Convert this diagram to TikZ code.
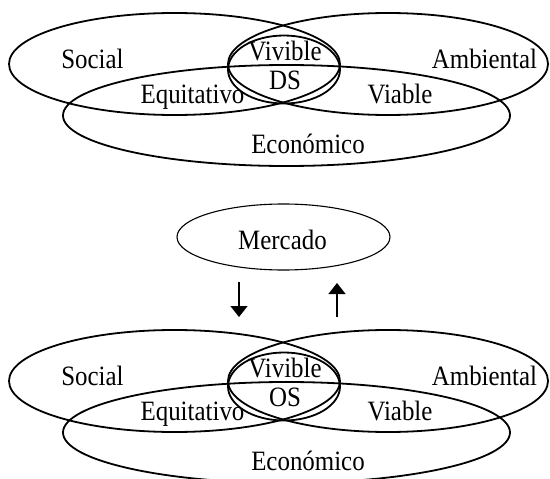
\documentclass[tikz,border=0pt]{standalone}
\usepackage{fontspec}
\setmainfont{Liberation Serif}[FakeStretch=0.89]
\usetikzlibrary{shapes.geometric,arrows.meta}
\begin{document}
\begin{tikzpicture}[x=1pt,y=-1pt,
  venn/.style={draw, ellipse, line width=1.8pt, inner sep=0pt},
  mkt/.style={draw, ellipse, line width=1.1pt, inner sep=0pt},
  lbl/.style={font=\fontsize{28}{28}\selectfont, anchor=base, inner sep=0pt},
  arr/.style={-{Triangle[width=17pt,length=11pt]}, line width=1.3pt}]
\useasboundingbox (0,0) rectangle (550,479);
\clip (0,0) rectangle (550,479);
% top diagram
\node[venn, minimum width=331pt, minimum height=102pt] (socT) at (174.5,64) {};
\node[venn, minimum width=320pt, minimum height=102pt] (ambT) at (388,64) {};
\node[venn, minimum width=447pt, minimum height=101pt] (ecoT) at (286.5,115.5) {};
\node[venn, minimum width=112pt, minimum height=68pt] (dsT) at (284,69.5) {};
\node[lbl] (lsocT) at (92.5,68) {Social};
\node[lbl] (lambT) at (484.5,68) {Ambiental};
\node[lbl] (lvivT) at (285,60) {Vivible};
\node[lbl] (ldsT) at (285,89) {DS};
\node[lbl] (lequT) at (192.5,103) {Equitativo};
\node[lbl] (lviaT) at (400,103) {Viable};
\node[lbl] (lecoT) at (308,153) {Económico};
% market
\node[mkt, minimum width=213pt, minimum height=66pt] (mer) at (283.5,237) {};
\node[lbl] (lmer) at (282.5,249) {Mercado};
\coordinate (d1) at (239,282);
\coordinate (d2) at (239,317);
\coordinate (u1) at (337,317);
\coordinate (u2) at (337,283);
\draw[arr] (d1) -- (d2);
\draw[arr] (u1) -- (u2);
% bottom diagram
\begin{scope}[yshift=-317pt]
\node[venn, minimum width=331pt, minimum height=102pt] (socB) at (174.5,64) {};
\node[venn, minimum width=320pt, minimum height=102pt] (ambB) at (388,64) {};
\node[venn, minimum width=447pt, minimum height=101pt] (ecoB) at (286.5,115.5) {};
\node[venn, minimum width=112pt, minimum height=68pt] (osB) at (284,69.5) {};
\node[lbl] (lsocB) at (92.5,68) {Social};
\node[lbl] (lambB) at (484.5,68) {Ambiental};
\node[lbl] (lvivB) at (285,60) {Vivible};
\node[lbl] (losB) at (285,89) {OS};
\node[lbl] (lequB) at (192.5,103) {Equitativo};
\node[lbl] (lviaB) at (400,103) {Viable};
\node[lbl] (lecoB) at (308,153) {Económico};
\end{scope}
\end{tikzpicture}
\end{document}
